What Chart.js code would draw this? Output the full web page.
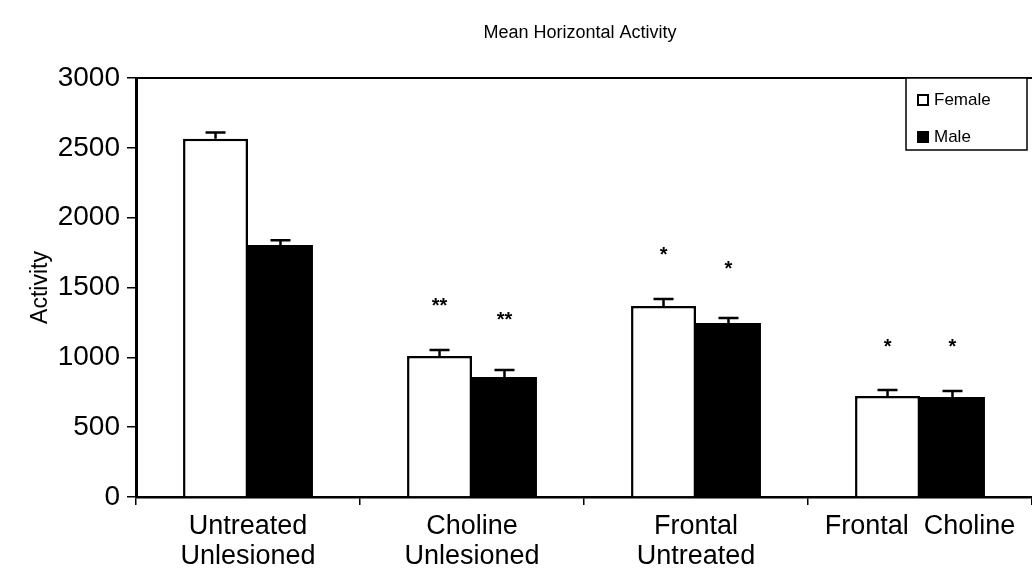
<!DOCTYPE html>
<html>
<head>
<meta charset="utf-8">
<script src="https://cdn.jsdelivr.net/npm/chart.js@4.4.0/dist/chart.umd.min.js"></script>
<style>
  html, body { margin: 0; padding: 0; background: #fff; overflow: hidden; }
  #wrap { width: 1032px; height: 585px; }
</style>
</head>
<body>
<div id="wrap"><canvas id="activityChart"></canvas></div>
<script>
const chartTitle = 'Mean Horizontal Activity';
const categories = [['Untreated', 'Unlesioned'], ['Choline', 'Unlesioned'], ['Frontal', 'Untreated'], 'Frontal  Choline'];
const femaleValues = [2565, 1010, 1368, 723];
const maleValues = [1804, 860, 1246, 716];
const femaleErrors = [45, 43, 50, 43];
const maleErrors = [35, 50, 36, 43];
// significance marks and the value level they sit at
const femaleStars = ['', '**', '*', '*'];
const maleStars = ['', '**', '*', '*'];
const femaleStarLevels = [0, 1390, 1755, 1100];
const maleStarLevels = [0, 1290, 1655, 1100];
const yTicks = [0, 500, 1000, 1500, 2000, 2500, 3000];

const FONT = '"Liberation Sans", Arial, sans-serif';

const errorBars = {
    id: 'errorBars',
    afterDatasetsDraw(chart) {
        const ctx = chart.ctx;
        const y = chart.scales.y;
        const errs = [femaleErrors, maleErrors];
        ctx.save();
        ctx.strokeStyle = '#000';
        ctx.lineWidth = 2.5;
        chart.data.datasets.forEach(function (ds, i) {
            const meta = chart.getDatasetMeta(i);
            meta.data.forEach(function (bar, j) {
                const top = y.getPixelForValue(ds.data[j] + errs[i][j]);
                ctx.beginPath();
                ctx.moveTo(bar.x, bar.y);
                ctx.lineTo(bar.x, top);
                ctx.moveTo(bar.x - 10, top);
                ctx.lineTo(bar.x + 10, top);
                ctx.stroke();
            });
        });
        ctx.restore();
    }
};

const starMarks = {
    id: 'starMarks',
    afterDatasetsDraw(chart) {
        const ctx = chart.ctx;
        const y = chart.scales.y;
        const marks = [femaleStars, maleStars];
        const levels = [femaleStarLevels, maleStarLevels];
        ctx.save();
        ctx.fillStyle = '#000';
        ctx.font = 'bold 20px ' + FONT;
        ctx.textAlign = 'center';
        ctx.textBaseline = 'middle';
        chart.data.datasets.forEach(function (ds, i) {
            const meta = chart.getDatasetMeta(i);
            meta.data.forEach(function (bar, j) {
                if (!marks[i][j]) return;
                ctx.fillText(marks[i][j], bar.x, y.getPixelForValue(levels[i][j]) + 4);
            });
        });
        ctx.restore();
    }
};

const frameAndLegend = {
    id: 'frameAndLegend',
    afterDraw(chart) {
        const ctx = chart.ctx;
        const area = chart.chartArea;
        ctx.save();
        // top border line of the plot
        ctx.strokeStyle = '#000';
        ctx.lineWidth = 2;
        ctx.beginPath();
        ctx.moveTo(area.left, area.top);
        ctx.lineTo(area.right, area.top);
        ctx.stroke();

        // title, centred over the plot area
        ctx.fillStyle = '#000';
        ctx.font = '18px ' + FONT;
        ctx.textAlign = 'center';
        ctx.textBaseline = 'middle';
        ctx.fillText(chartTitle, (area.left + area.right) / 2 - 4, 33);

        // legend box
        const bx = 906, by = area.top, bw = 121, bh = 72;
        ctx.lineWidth = 1.5;
        ctx.fillStyle = '#fff';
        ctx.fillRect(bx, by, bw, bh);
        ctx.strokeRect(bx, by, bw, bh);
        ctx.font = '17px ' + FONT;
        ctx.textAlign = 'left';
        chart.data.datasets.forEach(function (ds, i) {
            const cy = by + 22 + i * 37;
            ctx.fillStyle = ds.backgroundColor;
            ctx.fillRect(918, cy - 5, 10, 10);
            ctx.lineWidth = 2;
            ctx.strokeRect(918, cy - 5, 10, 10);
            ctx.fillStyle = '#000';
            ctx.fillText(ds.label, 934, cy);
        });
        ctx.restore();
    }
};

new Chart(document.getElementById('activityChart'), {
    type: 'bar',
    data: {
        labels: categories,
        datasets: [{
            label: 'Female',
            data: femaleValues,
            backgroundColor: '#ffffff',
            borderColor: '#000000',
            borderWidth: 2.5,
            borderSkipped: 'bottom'
        }, {
            label: 'Male',
            data: maleValues,
            backgroundColor: '#000000',
            borderColor: '#000000',
            borderWidth: 0
        }]
    },
    options: {
        maintainAspectRatio: false,
        responsive: true,
        animation: false,
        layout: { padding: { top: 78, right: 0, bottom: 0, left: 0 } },
        datasets: { bar: { barPercentage: 1, categoryPercentage: 0.58 } },
        plugins: {
            legend: { display: false },
            title: { display: false },
            tooltip: { enabled: false }
        },
        scales: {
            x: {
                grid: { drawOnChartArea: false, tickLength: 8, color: '#000', lineWidth: 1.5, offset: true },
                border: { color: '#000', width: 2.5 },
                ticks: { color: '#000', padding: 6, maxRotation: 0, autoSkip: false, font: { family: FONT, size: 27, lineHeight: 1.12 } },
                afterFit(scale) { scale.height = 88; }
            },
            y: {
                min: 0,
                max: 3000,
                afterBuildTicks(scale) { scale.ticks = yTicks.map(v => ({ value: v })); },
                grid: { drawOnChartArea: false, tickLength: 9, color: '#000', lineWidth: 1.5 },
                border: { color: '#000', width: 3 },
                ticks: { color: '#000', padding: 7, font: { family: FONT, size: 28 }, callback: v => String(v) },
                title: { display: true, text: 'Activity', color: '#000', font: { family: FONT, size: 23 }, padding: { top: 27, bottom: 0 } },
                afterFit(scale) { scale.width = 136; }
            }
        }
    },
    plugins: [errorBars, starMarks, frameAndLegend]
});
</script>
</body>
</html>
